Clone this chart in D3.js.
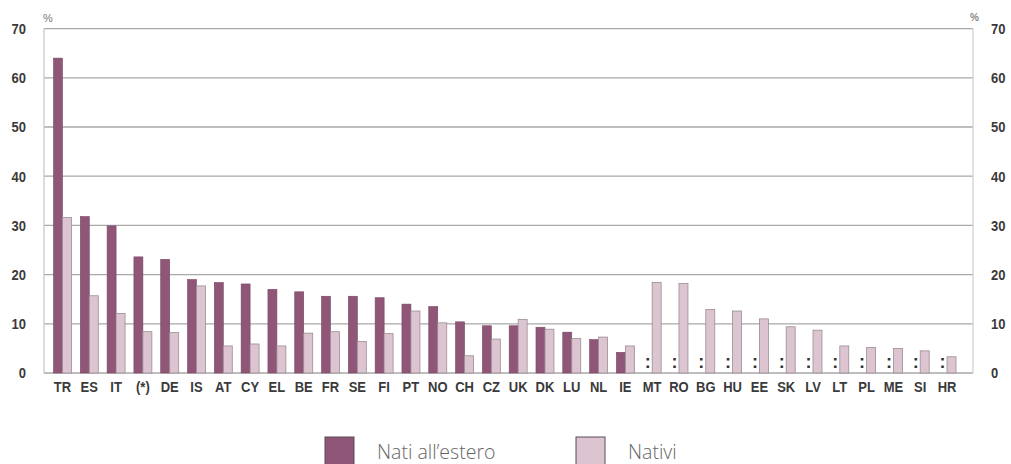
<!DOCTYPE html>
<html>
<head>
<meta charset="utf-8">
<script src="https://cdn.jsdelivr.net/npm/d3@7"></script>
<style>
  html, body { margin: 0; padding: 0; background: #ffffff; }
  svg { display: block; }
</style>
</head>
<body>
<svg id="chart" width="1011" height="464"></svg>
<script>
const categories = ["TR","ES","IT","(*)","DE","IS","AT","CY","EL","BE","FR","SE","FI","PT","NO","CH","CZ","UK","DK","LU","NL","IE","MT","RO","BG","HU","EE","SK","LV","LT","PL","ME","SI","HR"];
const natiEstero = [64.0,31.8,29.9,23.6,23.1,19.0,18.4,18.1,17.0,16.5,15.6,15.6,15.3,14.0,13.5,10.4,9.6,9.6,9.3,8.3,6.8,4.2,null,null,null,null,null,null,null,null,null,null,null,null];
const nativi = [31.6,15.7,12.1,8.4,8.2,17.7,5.5,5.9,5.5,8.1,8.4,6.4,8.0,12.6,10.2,3.5,6.9,10.9,8.9,7.0,7.3,5.5,18.4,18.2,12.9,12.6,11.0,9.4,8.7,5.5,5.2,5.0,4.5,3.3];
const yTicks = [0,10,20,30,40,50,60,70];
const seriesNames = ["Nati all\u2019estero","Nativi"];
const seriesColors = ["#8f5677","#dcc5d0"];

const svg = d3.select("#chart");
const plotLeft = 44, plotRight = 973;
const y = d3.scaleLinear().domain([0,70]).range([373, 28.6]);
const x = d3.scaleBand().domain(categories).range([53.5, 956]).paddingInner(0.33).paddingOuter(0);
const xs = d3.scaleBand().domain([0,1]).range([0, x.bandwidth()]);

const labelFont = "'Liberation Sans',Arial,sans-serif";
const squeeze = 0.84;

// gridlines
svg.append("g").selectAll("line").data(yTicks).join("line")
  .attr("x1", plotLeft).attr("x2", plotRight)
  .attr("y1", d => y(d)).attr("y2", d => y(d))
  .attr("stroke", "#a9a9a9").attr("stroke-width", 1.3);

// vertical frame lines
svg.append("line").attr("x1", plotLeft).attr("x2", plotLeft).attr("y1", y(70)).attr("y2", y(0))
  .attr("stroke", "#c4c4c4").attr("stroke-width", 1.2);
svg.append("line").attr("x1", plotRight).attr("x2", plotRight).attr("y1", y(70)).attr("y2", y(0))
  .attr("stroke", "#d9c9d1").attr("stroke-width", 1.2);

// left tick labels
svg.append("g").selectAll("text").data(yTicks).join("text")
  .attr("transform", d => `translate(26,${y(d)}) scale(${squeeze},1)`)
  .attr("text-anchor", "end").attr("dy", "0.35em").text(d => d)
  .attr("font-family", labelFont).attr("font-weight", "bold")
  .attr("font-size", 15.5).attr("fill", "#3a3a3a");

// right tick labels
svg.append("g").selectAll("text").data(yTicks).join("text")
  .attr("transform", d => `translate(991,${y(d)}) scale(${squeeze},1)`)
  .attr("text-anchor", "start").attr("dy", "0.35em").text(d => d)
  .attr("font-family", labelFont).attr("font-weight", "bold")
  .attr("font-size", 15.5).attr("fill", "#3a3a3a");

// percent signs
svg.append("text").attr("x", 43).attr("y", 22).text("%")
  .attr("font-family", labelFont).attr("font-size", 11).attr("fill", "#777");
svg.append("text").attr("x", 970).attr("y", 21).text("%")
  .attr("font-family", labelFont).attr("font-size", 10).attr("font-weight", "bold").attr("fill", "#888");

// bars
const groups = svg.append("g").selectAll("g").data(categories).join("g")
  .attr("transform", d => `translate(${x(d)},0)`);

groups.append("rect")
  .filter((d, i) => natiEstero[i] !== null)
  .attr("x", xs(0)).attr("width", xs.bandwidth())
  .attr("y", d => y(natiEstero[categories.indexOf(d)]))
  .attr("height", d => y(0) - y(natiEstero[categories.indexOf(d)]))
  .attr("fill", seriesColors[0]).attr("stroke", "#7a4664").attr("stroke-width", 0.6);

groups.append("rect")
  .attr("x", xs(1)).attr("width", xs.bandwidth())
  .attr("y", (d, i) => y(nativi[i]))
  .attr("height", (d, i) => y(0) - y(nativi[i]))
  .attr("fill", seriesColors[1]).attr("stroke", "#9a8d93").attr("stroke-width", 0.8);

// missing markers
groups.filter((d, i) => natiEstero[i] === null).append("text")
  .attr("x", xs(0) + xs.bandwidth() / 2).attr("y", 368)
  .attr("text-anchor", "middle").text(":")
  .attr("font-family", labelFont).attr("font-weight", "bold")
  .attr("font-size", 18).attr("fill", "#333");

// category labels
svg.append("g").selectAll("text").data(categories).join("text")
  .attr("transform", d => `translate(${x(d) + x.bandwidth() / 2},392) scale(${squeeze},1)`)
  .attr("text-anchor", "middle").text(d => d)
  .attr("font-family", labelFont).attr("font-weight", "bold")
  .attr("font-size", 15.5).attr("fill", "#3a3a3a");

// legend
const legX = [325, 576];
const leg = svg.append("g").selectAll("g").data(seriesNames).join("g")
  .attr("transform", (d, i) => `translate(${legX[i]},437)`);
leg.append("rect").attr("width", 29).attr("height", 30)
  .attr("fill", (d, i) => seriesColors[i]).attr("stroke", "#5a4a52").attr("stroke-width", 1);
leg.append("text").attr("x", 52).attr("y", 21.5).text(d => d)
  .attr("font-family", "'Open Sans',sans-serif").attr("font-weight", 300)
  .attr("font-size", 19.5).attr("fill", "#666");
</script>
</body>
</html>
